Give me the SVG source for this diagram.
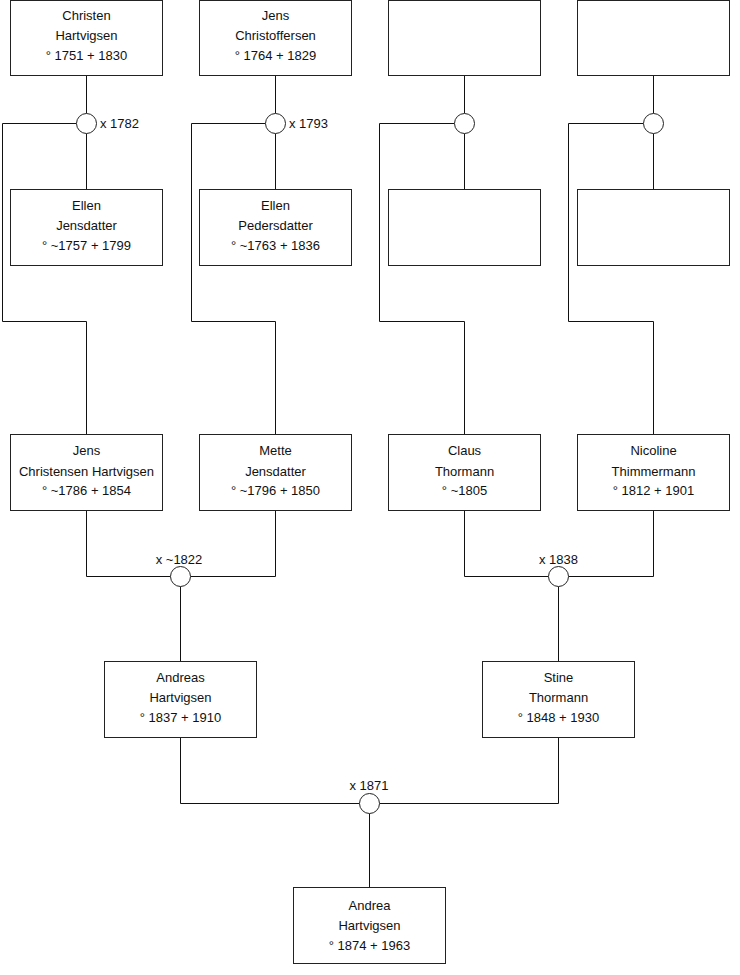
<svg xmlns="http://www.w3.org/2000/svg" width="740" height="975" viewBox="0 0 740 975">
<style>
.box{fill:#fff;stroke:#222;stroke-width:1}
.ln{fill:none;stroke:#111;stroke-width:1}
.ring{fill:#fff;stroke:#222;stroke-width:1}
text{font-family:"Liberation Sans",Arial,sans-serif;font-size:13px;fill:#111}
.c{text-anchor:middle}
</style>
<rect width="740" height="975" fill="#fff"/>
<g id="connectors">
<path class="ln" d="M86.5 75.5V113.5M86.5 133.5V189.5M76.5 123.5H2.5V321.5H86.5V434.5"/>
<path class="ln" d="M275.5 75.5V113.5M275.5 133.5V189.5M265.5 123.5H191.5V321.5H275.5V434.5"/>
<path class="ln" d="M464.5 75.5V113.5M464.5 133.5V189.5M454.5 123.5H379.5V321.5H464.5V434.5"/>
<path class="ln" d="M653.5 75.5V113.5M653.5 133.5V189.5M643.5 123.5H568.5V321.5H653.5V434.5"/>
<path class="ln" d="M86.5 510.5V576.5H170.5M190.5 576.5H275.5V510.5M180.5 586.5V661.5"/>
<path class="ln" d="M464.5 510.5V576.5H548.5M568.5 576.5H653.5V510.5M558.5 586.5V661.5"/>
<path class="ln" d="M180.5 737.5V803.5H359.5M379.5 803.5H558.5V737.5M369.5 813.5V887.5"/>
</g>
<g id="m1782"><circle class="ring" cx="86.5" cy="123.5" r="10"/><text x="100" y="128">x 1782</text></g>
<g id="m1793"><circle class="ring" cx="275.5" cy="123.5" r="10"/><text x="289" y="128">x 1793</text></g>
<g id="m3"><circle class="ring" cx="464.5" cy="123.5" r="10"/></g>
<g id="m4"><circle class="ring" cx="653.5" cy="123.5" r="10"/></g>
<g id="m1822"><circle class="ring" cx="180.5" cy="576.5" r="10"/><text class="c" x="179" y="563.5">x ~1822</text></g>
<g id="m1838"><circle class="ring" cx="558.5" cy="576.5" r="10"/><text class="c" x="558.5" y="563.5">x 1838</text></g>
<g id="m1871"><circle class="ring" cx="369.5" cy="803.5" r="10"/><text class="c" x="369" y="790">x 1871</text></g>

<g id="christen"><rect class="box" x="10.5" y="0.5" width="152" height="75"/>
<text class="c" x="86.5" y="20">Christen</text><text class="c" x="86.5" y="40">Hartvigsen</text><text class="c" x="86.5" y="60">° 1751 + 1830</text></g>
<g id="jensc"><rect class="box" x="199.5" y="0.5" width="152" height="75"/>
<text class="c" x="275.5" y="20">Jens</text><text class="c" x="275.5" y="40">Christoffersen</text><text class="c" x="275.5" y="60">° 1764 + 1829</text></g>
<g id="empty1"><rect class="box" x="388.5" y="0.5" width="152" height="75"/></g>
<g id="empty2"><rect class="box" x="577.5" y="0.5" width="152" height="75"/></g>

<g id="ellenj"><rect class="box" x="10.5" y="189.5" width="152" height="76"/>
<text class="c" x="86.5" y="210">Ellen</text><text class="c" x="86.5" y="230">Jensdatter</text><text class="c" x="86.5" y="250">° ~1757 + 1799</text></g>
<g id="ellenp"><rect class="box" x="199.5" y="189.5" width="152" height="76"/>
<text class="c" x="275.5" y="210">Ellen</text><text class="c" x="275.5" y="230">Pedersdatter</text><text class="c" x="275.5" y="250">° ~1763 + 1836</text></g>
<g id="empty3"><rect class="box" x="388.5" y="189.5" width="152" height="76"/></g>
<g id="empty4"><rect class="box" x="577.5" y="189.5" width="152" height="76"/></g>

<g id="jensch"><rect class="box" x="10.5" y="434.5" width="152" height="76"/>
<text class="c" x="86.5" y="455">Jens</text><text class="c" x="86.5" y="475.5">Christensen Hartvigsen</text><text class="c" x="86.5" y="495">° ~1786 + 1854</text></g>
<g id="mette"><rect class="box" x="199.5" y="434.5" width="152" height="76"/>
<text class="c" x="275.5" y="455">Mette</text><text class="c" x="275.5" y="475.5">Jensdatter</text><text class="c" x="275.5" y="495">° ~1796 + 1850</text></g>
<g id="claus"><rect class="box" x="388.5" y="434.5" width="152" height="76"/>
<text class="c" x="464.5" y="455">Claus</text><text class="c" x="464.5" y="475.5">Thormann</text><text class="c" x="464.5" y="495">° ~1805</text></g>
<g id="nicoline"><rect class="box" x="577.5" y="434.5" width="152" height="76"/>
<text class="c" x="653.5" y="455">Nicoline</text><text class="c" x="653.5" y="475.5">Thimmermann</text><text class="c" x="653.5" y="495">° 1812 + 1901</text></g>

<g id="andreas"><rect class="box" x="104.5" y="661.5" width="152" height="76"/>
<text class="c" x="180.5" y="682">Andreas</text><text class="c" x="180.5" y="702">Hartvigsen</text><text class="c" x="180.5" y="722">° 1837 + 1910</text></g>
<g id="stine"><rect class="box" x="482.5" y="661.5" width="152" height="76"/>
<text class="c" x="558.5" y="682">Stine</text><text class="c" x="558.5" y="702">Thormann</text><text class="c" x="558.5" y="722">° 1848 + 1930</text></g>
<g id="andrea"><rect class="box" x="293.5" y="887.5" width="152" height="76"/>
<text class="c" x="369.5" y="910">Andrea</text><text class="c" x="369.5" y="930">Hartvigsen</text><text class="c" x="369.5" y="950">° 1874 + 1963</text></g>
</svg>
